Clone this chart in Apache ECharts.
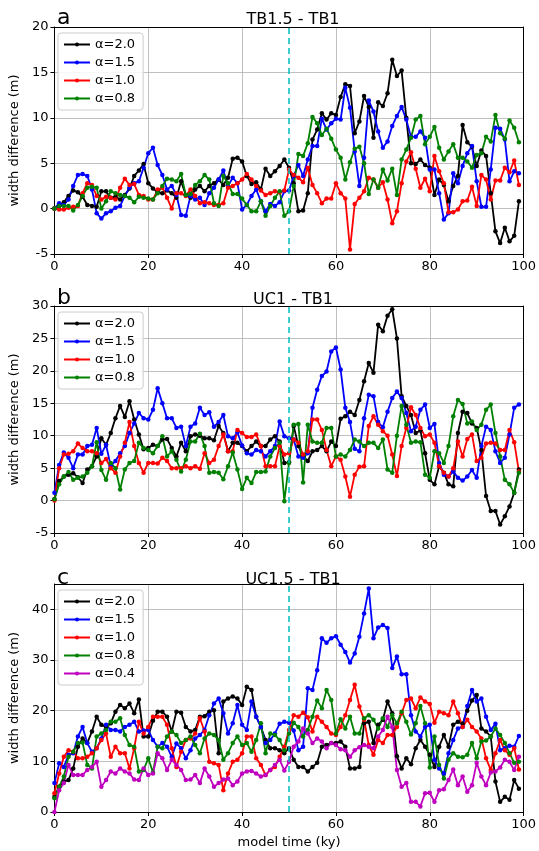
<!DOCTYPE html>
<html><head><meta charset="utf-8">
<script src="https://cdn.jsdelivr.net/npm/echarts@6/dist/echarts.min.js"></script>
<style>html,body{margin:0;padding:0;background:#fff}#c{width:539px;height:851px}</style>
</head><body><div id="c"></div>
<script>
// model time (ky)
const time = [
  0,1,2,3,4,5,6,7,8,9, 10,11,12,13,14,15,16,17,18,19,
  20,21,22,23,24,25,26,27,28,29, 30,31,32,33,34,35,36,37,38,39,
  40,41,42,43,44,45,46,47,48,49, 50,51,52,53,54,55,56,57,58,59,
  60,61,62,63,64,65,66,67,68,69, 70,71,72,73,74,75,76,77,78,79,
  80,81,82,83,84,85,86,87,88,89, 90,91,92,93,94,95,96,97,98,99
];
const seriesNames4 = ['α=2.0','α=1.5','α=1.0','α=0.8'];
const seriesNames5 = ['α=2.0','α=1.5','α=1.0','α=0.8','α=0.4'];
const panelTitles = ['TB1.5 - TB1','UC1 - TB1','UC1.5 - TB1'];
const panelLetters = ['a','b','c'];

// Panel a: TB1.5 - TB1
const a_a20 = [
  0.0,0.3,0.7,1.4,2.0,1.8,1.3,0.4,0.3,0.2,
  1.9,1.9,1.2,1.3,1.0,1.5,2.2,3.6,4.2,4.9,
  2.8,2.2,1.8,1.7,2.0,1.7,1.2,3.0,1.5,1.2,
  2.1,2.5,1.9,2.5,2.8,3.2,2.6,3.4,5.5,5.6,
  5.2,3.6,2.7,2.9,2.1,4.4,3.6,4.1,4.7,5.4,
  4.5,2.8,-0.3,-0.2,1.7,7.6,8.7,10.5,9.8,10.5,
  10.3,12.3,13.7,13.5,8.3,9.6,12.4,11.2,7.8,11.7,
  11.3,12.7,16.4,14.6,15.2,10.0,5.0,4.9,5.4,4.8,
  4.5,1.5,3.2,2.6,0.8,2.5,3.6,9.2,7.3,6.8,
  4.7,6.4,5.8,1.7,-2.5,-3.8,-2.1,-3.6,-3.0,0.8
];
const a_a15 = [
  0.0,0.6,0.4,1.0,2.5,3.7,3.8,3.6,2.1,-0.5,
  -1.1,-0.5,-0.3,0.1,0.3,1.4,2.3,2.8,3.0,4.5,
  6.1,6.7,4.8,3.7,2.1,2.5,1.5,-0.7,-0.8,1.4,
  1.0,1.2,0.4,1.7,2.3,3.2,4.2,2.5,3.4,2.8,
  -0.1,0.4,1.4,2.1,0.8,-0.3,0.5,0.3,0.7,1.9,
  2.0,3.6,4.8,3.6,5.4,6.9,6.9,9.9,8.7,9.4,
  9.9,9.8,13.3,11.1,6.3,2.5,5.6,11.9,10.7,8.5,
  6.7,7.4,9.1,10.2,11.2,9.8,7.9,7.9,8.5,7.8,
  4.3,4.3,1.7,-1.2,-0.5,3.9,2.8,4.7,6.1,6.9,
  3.0,0.2,0.2,4.3,8.9,8.8,7.6,3.0,4.1,3.9
];
const a_a10 = [
  0.0,-0.1,-0.1,0.1,0.2,0.3,1.7,2.8,2.6,1.4,
  1.0,1.3,1.2,1.0,2.3,3.3,2.6,2.7,1.5,1.4,
  1.0,1.0,2.1,2.3,1.2,0.0,1.7,1.7,1.4,2.1,
  1.4,0.6,0.7,0.6,0.4,0.4,0.6,2.3,2.5,2.8,
  3.2,3.8,3.2,2.5,2.0,1.5,1.7,1.9,1.8,2.0,
  4.3,3.7,3.4,2.9,4.5,2.6,1.7,0.6,1.1,1.1,
  2.8,1.7,1.1,-4.5,0.5,1.2,1.9,3.4,3.2,2.3,
  2.9,1.0,-1.6,-0.3,2.8,5.2,6.2,4.4,2.3,3.3,
  1.9,5.8,4.1,2.8,-0.4,-0.4,-0.1,0.8,0.9,2.4,
  0.3,3.7,3.2,1.0,3.1,3.1,4.5,4.0,5.3,2.6
];
const a_a08 = [
  0.0,0.3,0.3,0.3,-0.2,0.4,1.4,2.3,2.4,2.3,
  0.0,0.8,1.9,1.7,1.5,1.4,1.2,0.7,1.3,1.2,
  1.1,1.0,1.7,2.5,3.3,3.2,3.0,3.8,1.5,1.6,
  2.6,3.0,3.7,3.2,0.6,0.3,3.6,2.8,1.6,1.6,
  1.1,0.4,-0.3,-0.3,0.8,-0.8,0.3,1.2,1.9,-0.8,
  -0.3,2.5,6.0,5.8,7.2,10.1,9.4,8.1,8.8,7.7,
  6.5,5.6,3.2,5.1,6.6,6.8,5.0,1.6,3.2,2.3,
  4.3,3.1,4.4,1.5,5.4,6.5,7.8,9.8,10.2,7.1,
  7.9,9.0,6.7,5.4,6.3,7.1,5.6,5.6,5.2,4.5,
  5.9,6.1,7.9,7.4,10.3,8.3,7.7,9.7,8.9,7.3
];

// Panel b: UC1 - TB1
const b_a20 = [
  0.2,3.0,3.7,4.0,4.2,3.6,2.7,4.8,5.3,6.8,
  9.6,8.6,10.4,12.7,14.6,12.9,15.3,12.5,10.2,7.9,
  8.1,8.6,8.4,9.4,9.5,8.1,6.8,8.9,7.6,9.9,
  10.2,10.0,9.6,9.6,9.3,11.5,10.4,7.6,8.9,8.9,
  8.4,7.6,8.4,9.1,8.4,8.4,9.4,9.9,9.1,5.8,
  5.9,11.5,8.4,6.8,6.1,7.6,7.8,8.4,7.6,9.1,
  8.4,12.6,13.0,13.7,13.2,15.5,18.4,21.2,19.7,27.1,
  26.1,28.5,29.5,25.0,16.1,14.6,13.2,10.4,10.8,7.3,
  3.2,2.5,5.3,4.3,2.5,2.2,10.4,13.7,13.5,11.9,
  11.2,7.8,0.7,-1.6,-1.6,-3.7,-2.4,-0.9,1.2,4.8
];
const b_a15 = [
  1.2,5.5,7.4,6.6,5.0,7.1,7.1,8.4,8.6,11.2,
  7.2,8.6,5.3,6.1,7.3,8.4,10.4,11.9,13.5,12.7,
  12.5,14.0,17.3,15.0,12.7,12.7,11.2,11.4,8.4,11.4,
  11.9,14.3,13.2,13.6,11.4,12.1,13.2,9.9,9.6,10.5,
  8.5,7.3,7.1,7.8,7.6,6.8,7.6,8.4,12.2,9.9,
  9.6,9.4,6.8,6.6,7.3,14.3,17.1,19.2,19.9,23.0,
  23.6,20.2,14.3,12.1,8.0,7.6,12.7,16.3,16.1,12.1,
  11.3,13.7,15.8,16.8,15.8,13.5,10.7,11.4,14.0,14.8,
  11.2,11.8,5.8,4.0,3.7,4.5,3.5,3.1,3.7,4.7,
  3.5,8.4,11.4,10.9,7.6,5.8,6.6,10.2,14.3,14.8
];
const b_a10 = [
  0.0,5.0,7.1,7.2,7.6,8.8,8.1,7.6,7.6,7.3,
  5.8,6.4,5.0,4.3,6.8,8.9,12.1,8.4,5.8,4.3,
  5.8,5.8,5.7,6.6,6.1,5.0,5.0,5.0,5.3,5.0,
  5.3,4.9,7.3,5.8,6.3,8.4,10.2,7.6,7.6,10.9,
  10.4,9.8,9.8,10.2,8.4,5.3,5.3,5.3,8.4,7.1,
  7.3,9.4,8.9,7.1,7.6,12.5,12.5,10.9,7.8,5.3,
  6.8,6.3,3.7,0.6,4.0,5.2,5.3,11.5,13.0,11.7,
  10.7,10.0,7.1,3.8,8.4,11.2,14.4,13.2,11.2,9.9,
  10.2,8.9,5.3,4.3,3.7,5.0,9.1,6.8,9.5,10.2,
  6.1,6.6,8.8,8.9,8.8,7.8,7.8,10.9,9.0,4.5
];
const b_a08 = [
  0.2,2.5,3.7,4.4,3.2,3.5,3.7,4.3,5.3,9.0,
  4.7,3.2,5.8,5.0,1.7,4.8,5.8,6.1,8.9,8.1,
  7.8,7.3,8.4,9.9,6.8,7.6,6.3,4.5,6.3,9.1,
  9.1,10.3,8.4,4.3,4.4,4.3,3.3,5.3,7.4,4.8,
  1.8,3.5,2.7,4.4,4.4,4.5,6.8,8.1,8.9,-0.1,
  5.8,11.7,11.8,2.8,11.7,9.1,8.9,8.9,11.2,11.2,
  6.8,7.1,6.8,7.8,9.4,9.1,8.4,8.9,8.9,8.1,
  9.4,4.8,4.3,10.0,14.6,11.7,8.9,9.1,9.0,4.0,
  3.5,7.6,7.3,5.8,8.4,13.0,15.5,14.9,11.9,12.2,
  10.9,11.7,14.0,14.8,10.4,6.8,3.2,2.5,1.2,4.3
];

// Panel c: UC1.5 - TB1
const c_a20 = [
  3.0,5.0,6.0,6.3,8.6,12.9,14.5,13.6,15.9,18.8,
  17.2,16.8,17.5,19.8,21.1,20.5,21.4,19.5,22.2,14.9,
  14.9,18.0,19.8,19.8,18.8,15.9,19.8,19.6,16.8,15.9,
  16.2,18.8,18.9,19.8,20.1,11.6,21.8,22.4,22.8,22.4,
  21.1,24.7,24.1,18.8,16.8,14.2,12.6,12.6,12.2,11.6,
  12.6,10.3,8.9,8.9,8.0,8.9,9.7,12.9,13.2,13.6,
  13.6,13.9,12.9,8.6,8.6,8.9,17.5,17.8,13.6,17.2,
  18.2,21.8,19.5,11.0,8.6,10.6,9.4,12.6,14.2,12.9,
  11.3,8.9,12.9,15.2,12.9,17.2,17.8,17.4,20.0,22.0,
  23.1,16.5,15.9,14.9,6.0,2.0,3.0,2.4,6.3,4.6
];
const c_a15 = [
  5.7,9.6,8.9,11.3,11.6,14.9,16.8,13.6,11.9,12.6,
  14.5,17.2,16.2,16.2,15.9,16.8,17.2,17.8,15.9,16.1,
  16.2,14.2,12.9,13.6,12.9,10.9,13.5,12.6,10.6,12.2,
  14.5,15.2,16.2,19.1,21.4,22.4,19.5,15.5,17.5,21.1,
  17.2,16.2,21.8,18.8,16.8,13.6,14.2,15.5,17.4,17.8,
  17.6,16.1,12.2,12.9,24.4,24.1,28.0,34.3,33.4,34.3,
  34.7,33.0,31.6,29.5,31.3,34.6,39.2,44.1,34.3,36.4,
  36.9,36.3,28.4,30.7,27.2,27.2,19.1,15.9,14.9,16.8,
  17.2,10.3,8.6,7.6,11.6,14.2,16.5,16.8,20.9,24.1,
  21.8,22.4,18.8,16.2,17.4,12.2,12.6,13.1,12.9,15.0
];
const c_a10 = [
  3.7,7.6,10.9,12.2,11.9,10.6,10.6,10.9,11.6,12.6,
  14.2,15.5,10.9,12.9,11.6,11.6,8.6,12.6,17.8,15.5,
  16.8,18.8,18.8,18.8,17.2,12.6,8.9,11.9,14.2,14.5,
  15.5,18.5,15.9,9.9,9.6,9.3,4.3,7.6,9.9,10.3,
  11.6,14.9,14.9,10.6,9.3,7.3,8.3,8.9,10.9,12.9,
  16.2,19.1,18.8,19.6,18.7,15.9,18.8,17.8,16.8,15.5,
  15.2,16.8,19.1,22.1,25.1,20.8,18.2,13.2,11.3,14.2,
  13.6,15.2,15.2,16.8,19.5,22.1,22.4,20.5,22.6,21.8,
  21.3,17.6,19.8,19.5,19.1,21.8,19.5,16.8,18.2,16.8,
  15.9,14.5,10.6,8.3,11.6,14.2,12.2,11.3,12.6,8.4
];
const c_a08 = [
  2.7,5.0,7.0,10.9,11.9,13.6,13.7,9.3,8.6,14.9,
  15.5,16.2,17.8,17.8,18.5,15.2,13.2,12.9,8.0,8.3,
  10.6,7.8,12.9,12.6,14.9,15.9,15.2,13.6,14.2,14.9,
  13.2,11.6,14.5,15.5,15.2,14.2,10.3,11.6,13.6,14.9,
  13.2,13.6,11.9,14.2,17.5,11.6,15.5,15.2,14.2,12.2,
  15.5,17.6,16.8,14.9,16.2,18.8,22.0,20.5,24.1,22.1,
  15.5,18.3,16.5,18.8,15.5,15.5,18.5,19.1,18.2,16.5,
  18.5,16.8,19.1,17.5,19.8,17.8,15.3,17.5,20.9,17.5,
  8.8,14.9,9.3,6.6,10.3,11.6,10.9,10.8,11.3,13.6,
  10.6,13.9,14.1,14.9,16.5,15.2,13.6,11.6,9.7,9.9
];
const c_a04 = [
  0.0,4.3,5.7,9.3,7.3,7.3,7.3,8.3,8.9,9.9,
  5.0,6.3,8.0,7.6,8.6,8.0,7.6,6.4,6.3,8.6,
  7.3,7.6,11.6,10.6,8.3,10.3,9.3,8.3,6.3,6.4,
  7.3,5.7,8.6,7.0,5.0,5.7,6.4,6.6,5.3,6.0,
  7.6,8.0,8.1,7.6,7.0,7.3,8.3,9.3,10.3,8.2,
  9.9,12.9,13.9,16.5,15.5,13.6,14.5,13.9,12.6,13.6,
  13.2,12.4,12.2,10.9,12.2,12.8,13.2,12.9,12.6,14.9,
  16.2,18.8,16.8,8.3,5.0,5.7,2.0,2.0,1.1,3.7,
  3.8,2.0,4.3,4.5,6.3,8.4,5.3,7.0,4.0,5.3,
  9.7,7.0,5.3,7.8,8.0,8.8,10.3,9.9,8.3,10.9
];

const colors = {'α=2.0':'#000000','α=1.5':'#0000ff','α=1.0':'#ff0000','α=0.8':'#008000','α=0.4':'#bf00bf'};
const FONT = 'DejaVu Sans';
const panels = [
  {vals:[a_a20,a_a15,a_a10,a_a08], names:seriesNames4, min:-5, max:20, interval:5, top:27, height:227, ticks:null},
  {vals:[b_a20,b_a15,b_a10,b_a08], names:seriesNames4, min:-5, max:30, interval:5, top:306, height:227, ticks:null},
  {vals:[c_a20,c_a15,c_a10,c_a08,c_a04], names:seriesNames5, min:0, max:45, interval:10, top:584, height:228, ticks:[0,10,20,30,40]}
];
const legendTops = [33, 312, 590];
const titleTops = [7, 287, 567];
const letterTops = [2, 282, 562];

const grid=[], xAxis=[], yAxis=[], series=[], legend=[], title=[];
panels.forEach((p, g) => {
  grid.push({left:52, top:p.top, width:472, height:p.height, show:false});
  xAxis.push({gridIndex:g, type:'value', min:0, max:100, interval:20,
    axisLine:{show:true, onZero:false, lineStyle:{color:'#000', width:1}},
    axisTick:{show:true, length:4, lineStyle:{color:'#000'}},
    axisLabel:{color:'#000', fontSize:13, fontFamily:FONT, margin:6},
    splitLine:{show:true, lineStyle:{color:'#b0b0b0', width:0.8}},
    name: g===2 ? 'model time (ky)' : '', nameLocation:'middle', nameGap:24,
    nameTextStyle:{color:'#000', fontSize:13, fontFamily:FONT}
  });
  const yl = {gridIndex:g, type:'value', min:p.min, max:p.max, interval:p.interval,
    axisLine:{show:true, onZero:false, lineStyle:{color:'#000', width:1}},
    axisTick:{show:true, length:4, lineStyle:{color:'#000'}},
    axisLabel:{color:'#000', fontSize:13, fontFamily:FONT, margin:6},
    splitLine:{show:true, lineStyle:{color:'#b0b0b0', width:0.8}},
    name:'width difference (m)', nameLocation:'middle', nameGap:27,
    nameTextStyle:{color:'#000', fontSize:13, fontFamily:FONT}
  };
  if (p.ticks) { yl.axisTick.customValues = p.ticks; yl.axisLabel.customValues = p.ticks; }
  yAxis.push(yl);
  p.vals.forEach((v, k) => {
    const nm = p.names[k];
    const s = {type:'line', name:nm, xAxisIndex:g, yAxisIndex:g,
      data: time.map((t,i)=>[t, v[i]]),
      symbol:'circle', symbolSize:4.5, showSymbol:true,
      lineStyle:{width:1.8, color:colors[nm]}, itemStyle:{color:colors[nm]},
      animation:false};
    if (k === p.vals.length-1) {
      s.markLine = {silent:true, symbol:['none','none'], animation:false,
        label:{show:false}, lineStyle:{color:'#00bfbf', type:[6,4], width:1.5},
        data:[{xAxis:50}]};
    }
    series.push(s);
  });
  legend.push({data:p.names, orient:'vertical', left:58, top:legendTops[g],
    itemWidth:26, itemHeight:5, itemGap:5, padding:[5,8,5,5],
    borderColor:'#cccccc', borderWidth:1, borderRadius:3, backgroundColor:'rgba(255,255,255,0.85)',
    itemStyle:{borderWidth:0}, lineStyle:{width:2},
    textStyle:{fontSize:13, fontFamily:FONT, color:'#000'}, selectedMode:false});
  title.push({text:panelTitles[g], left:288, textAlign:'center', top:titleTops[g],
    textStyle:{fontSize:16, fontWeight:'normal', fontFamily:FONT, color:'#000'}});
  title.push({text:panelLetters[g], left:52, top:letterTops[g],
    textStyle:{fontSize:22, fontWeight:'normal', fontFamily:FONT, color:'#000'}});
});
// frame (top & right spines)
panels.forEach((p, g) => {
  xAxis.push({gridIndex:g, type:'value', position:'top', min:0, max:100,
    axisLine:{show:true, onZero:false, lineStyle:{color:'#000', width:1}},
    axisTick:{show:false}, axisLabel:{show:false}, splitLine:{show:false}});
  yAxis.push({gridIndex:g, type:'value', position:'right', min:p.min, max:p.max,
    axisLine:{show:true, onZero:false, lineStyle:{color:'#000', width:1}},
    axisTick:{show:false}, axisLabel:{show:false}, splitLine:{show:false}});
});

const chart = echarts.init(document.getElementById('c'), null, {renderer:'canvas'});
chart.setOption({animation:false, backgroundColor:'#fff', title, legend, grid, xAxis, yAxis, series});
</script></body></html>
